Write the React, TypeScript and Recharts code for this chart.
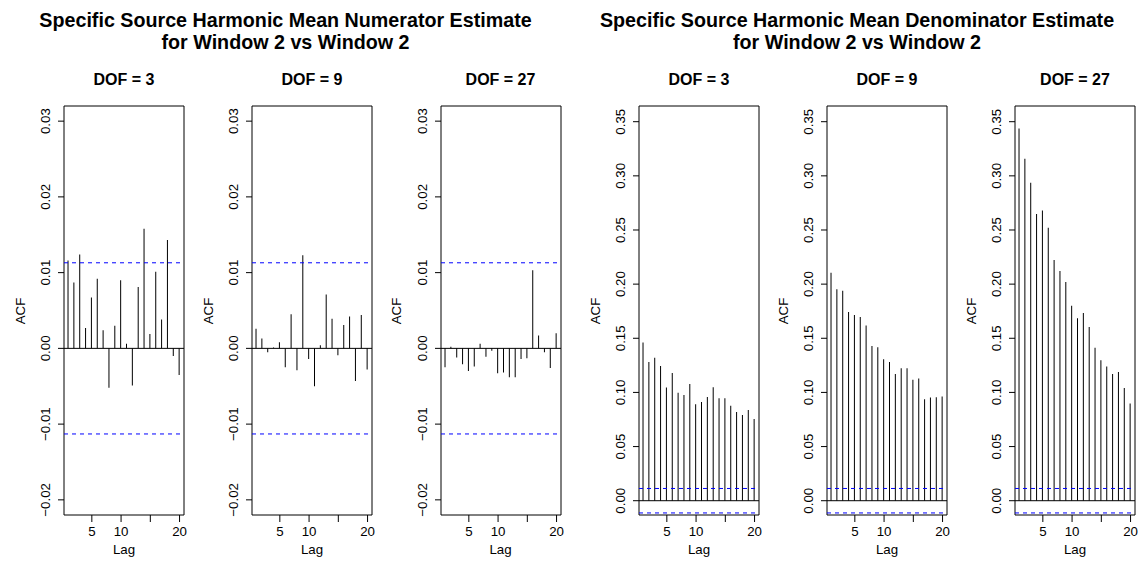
import React from "react"
import {
  Bar,
  ComposedChart,
  ReferenceArea,
  ReferenceLine,
  XAxis,
  YAxis,
} from "recharts"

const lags = [1, 2, 3, 4, 5, 6, 7, 8, 9, 10, 11, 12, 13, 14, 15, 16, 17, 18, 19, 20]

const numDof3 = [
  0.0116, 0.0087, 0.0124, 0.0027, 0.0067, 0.0092, 0.0024, -0.0052, 0.003, 0.009,
  0.0006, -0.0049, 0.0081, 0.0158, 0.0019, 0.0101, 0.0038, 0.0143, -0.001, -0.0035,
]
const numDof9 = [
  0.0026, 0.0013, -0.0005, 0.0001, 0.0008, -0.0025, 0.0045, -0.0029, 0.0123, -0.0014,
  -0.005, 0.0004, 0.0071, 0.0039, -0.0009, 0.0031, 0.0042, -0.0043, 0.0044, -0.0028,
]
const numDof27 = [
  -0.0025, 0.0002, -0.0012, -0.0021, -0.003, -0.0024, 0.0006, -0.0011, -0.0003, -0.0033,
  -0.0032, -0.0038, -0.0038, -0.0014, -0.0013, 0.0103, 0.0017, -0.0005, -0.0026, 0.002,
]
const denDof3 = [
  0.146, 0.128, 0.132, 0.1245, 0.1045, 0.118, 0.0998, 0.0977, 0.1078, 0.0891,
  0.0912, 0.0958, 0.1048, 0.0946, 0.0946, 0.0878, 0.082, 0.0792, 0.0838, 0.0755,
]
const denDof9 = [
  0.2106, 0.1952, 0.194, 0.1743, 0.1715, 0.1697, 0.1617, 0.1429, 0.1417, 0.1306,
  0.1282, 0.1171, 0.1223, 0.1223, 0.1118, 0.1128, 0.0937, 0.0952, 0.0955, 0.0962,
]
const denDof27 = [
  0.3438, 0.3158, 0.2937, 0.2647, 0.2681, 0.2521, 0.2222, 0.2121, 0.2019, 0.18,
  0.1684, 0.1733, 0.1603, 0.1413, 0.1296, 0.124, 0.1169, 0.1188, 0.104, 0.0898,
]

const confLimit = 0.0113
const numTicks = [-0.02, -0.01, 0, 0.01, 0.02, 0.03]
const denTicks = [0, 0.05, 0.1, 0.15, 0.2, 0.25, 0.3, 0.35]
const lagTicks = [5, 10, 15, 20]
const hiddenLagLabels = [15]

const FONT = "'Liberation Sans', Arial, Helvetica, sans-serif"
const BOX_W = 120
const AXIS_W = 60
const LABEL_SIZE = 13.3

function fmtAcf(v: number) {
  const s = Math.abs(v).toFixed(2)
  return v < 0 ? "\u2212" + s : s
}

function YTick(props: any) {
  const { y, payload } = props
  const bx = 46
  return (
    <text
      x={bx}
      y={y}
      transform={`rotate(-90 ${bx} ${y})`}
      textAnchor="middle"
      fontSize={LABEL_SIZE}
      fontFamily={FONT}
      fill="#000"
    >
      {fmtAcf(payload.value)}
    </text>
  )
}

function Txt({ x, y, text, size, bold, rotate }: any) {
  return (
    <div
      style={{
        position: "absolute",
        left: x,
        top: y,
        transform: `translate(-50%, -50%)${rotate ? " rotate(-90deg)" : ""}`,
        fontSize: size,
        fontWeight: bold ? "bold" : "normal",
        lineHeight: 1,
        whiteSpace: "nowrap",
        fontFamily: FONT,
        color: "#000",
      }}
    >
      {text}
    </div>
  )
}

function Panel({ left, title, values, domain, ticks }: any) {
  const data = lags.map((lag, i) => ({ lag, acf: values[i] }))
  const cx = left + BOX_W / 2
  return (
    <>
      <div style={{ position: "absolute", left: left - AXIS_W, top: 0 }}>
        <ComposedChart
          width={AXIS_W + BOX_W + 10}
          height={566}
          data={data}
          margin={{ top: 106, right: 10, left: 0, bottom: 21 }}
        >
          <XAxis
            dataKey="lag"
            type="number"
            domain={[0.24, 20.76]}
            allowDataOverflow
            ticks={lagTicks}
            interval={0}
            tickFormatter={(v: number) => (hiddenLagLabels.includes(v) ? "" : String(v))}
            axisLine={false}
            tickSize={7}
            tickMargin={5}
            tickLine={{ stroke: "#000" }}
            tick={{ fill: "#000", fontSize: LABEL_SIZE, fontFamily: FONT }}
            height={30}
          />
          <YAxis
            type="number"
            domain={domain}
            allowDataOverflow
            ticks={ticks}
            interval={0}
            width={AXIS_W}
            axisLine={false}
            tickSize={6}
            tickLine={{ stroke: "#000" }}
            tick={<YTick />}
          />
          <ReferenceLine y={confLimit} stroke="#0000ff" strokeDasharray="4 4" />
          <ReferenceLine y={-confLimit} stroke="#0000ff" strokeDasharray="4 4" />
          <ReferenceLine y={0} stroke="#000" />
          <Bar dataKey="acf" fill="#000" barSize={1} isAnimationActive={false} />
          <ReferenceArea
            x1={0.24}
            x2={20.76}
            y1={domain[0]}
            y2={domain[1]}
            fill="none"
            fillOpacity={0}
            stroke="#000"
            strokeWidth={1}
          />
        </ComposedChart>
      </div>
      <Txt x={cx} y={80} text={title} size={16} bold />
      <Txt x={left - 43.5} y={311} text="ACF" size={LABEL_SIZE} rotate />
      <Txt x={cx} y={550} text="Lag" size={LABEL_SIZE} />
    </>
  )
}

export default function App() {
  const numDomain = [-0.022, 0.032]
  const denDomain = [-0.0132, 0.3645]
  return (
    <div
      style={{
        position: "absolute",
        left: 0,
        top: 0,
        width: 1143,
        height: 566,
        background: "#fff",
        overflow: "hidden",
      }}
    >
      <Txt x={285.5} y={21} text="Specific Source Harmonic Mean Numerator Estimate" size={19.7} bold />
      <Txt x={285.5} y={43} text="for Window 2 vs Window 2" size={19.7} bold />
      <Txt x={857} y={21} text="Specific Source Harmonic Mean Denominator Estimate" size={19.7} bold />
      <Txt x={857} y={43} text="for Window 2 vs Window 2" size={19.7} bold />

      <Panel left={64} title="DOF = 3" values={numDof3} domain={numDomain} ticks={numTicks} />
      <Panel left={252} title="DOF = 9" values={numDof9} domain={numDomain} ticks={numTicks} />
      <Panel left={440.5} title="DOF = 27" values={numDof27} domain={numDomain} ticks={numTicks} />
      <Panel left={639} title="DOF = 3" values={denDof3} domain={denDomain} ticks={denTicks} />
      <Panel left={827} title="DOF = 9" values={denDof9} domain={denDomain} ticks={denTicks} />
      <Panel left={1015} title="DOF = 27" values={denDof27} domain={denDomain} ticks={denTicks} />
    </div>
  )
}
